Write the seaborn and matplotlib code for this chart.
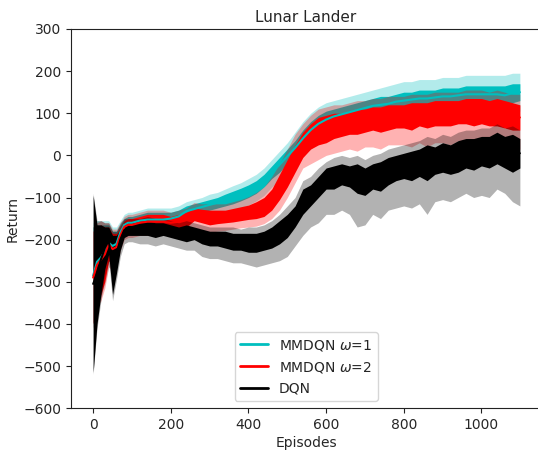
import pandas as pd
import seaborn as sns
import matplotlib.pyplot as plt

episodes = [0, 10, 20, 30, 40, 50, 60, 70, 80, 90, 100, 120, 140, 160, 180, 200,
            220, 240, 260, 280, 300, 320, 340, 360, 380, 400, 420, 440, 460, 480,
            500, 520, 540, 560, 580, 600, 620, 640, 660, 680, 700, 720, 740, 760,
            780, 800, 820, 840, 860, 880, 900, 920, 940, 960, 980, 1000, 1020,
            1040, 1060, 1080, 1099]

# MMDQN omega=1 (cyan): solid line envelope and light shaded band
mm1_lo = [-400, -340, -320, -290, -250, -250, -240, -200, -180, -175, -175, -170, -170, -170, -170, -165,
          -160, -145, -140, -135, -130, -125, -120, -115, -108, -100, -90, -75, -55, -40,
          -20, 0, 20, 40, 55, 65, 75, 80, 85, 90, 95, 100, 100, 105,
          110, 110, 115, 115, 115, 120, 120, 120, 125, 125, 125, 125, 125,
          125, 120, 125, 130]
mm1_hi = [-170, -165, -165, -165, -165, -180, -180, -165, -150, -145, -145, -140, -135, -135, -135, -135,
          -130, -120, -115, -110, -105, -100, -92, -85, -78, -70, -60, -45, -25, -5,
          15, 35, 60, 80, 95, 105, 110, 115, 120, 125, 130, 135, 140, 140,
          145, 150, 150, 155, 155, 155, 160, 160, 160, 165, 165, 165, 165,
          165, 165, 170, 170]
mm1_band_lo = [-410, -355, -335, -305, -265, -265, -255, -215, -195, -190, -190, -185, -185, -185, -185, -180,
               -175, -160, -155, -150, -145, -140, -135, -130, -125, -118, -108, -95, -75, -60,
               -40, -20, 0, 15, 30, 40, 50, 55, 60, 65, 70, 75, 75, 80,
               85, 85, 90, 90, 90, 95, 95, 95, 100, 100, 100, 100, 100,
               100, 95, 100, 105]
mm1_band_hi = [-160, -155, -155, -155, -155, -170, -170, -155, -140, -135, -135, -130, -125, -125, -125, -125,
               -120, -110, -105, -100, -92, -88, -80, -72, -65, -55, -45, -30, -10, 10,
               30, 55, 80, 100, 115, 125, 130, 135, 140, 145, 150, 155, 160, 165,
               170, 175, 175, 180, 180, 180, 185, 185, 185, 190, 190, 190, 190,
               190, 190, 195, 195]

# MMDQN omega=2 (red)
mm2_lo = [-400, -350, -330, -300, -250, -260, -250, -210, -185, -180, -180, -175, -175, -175, -175, -175,
          -175, -170, -155, -160, -165, -162, -160, -158, -155, -152, -150, -145, -130, -105,
          -75, -40, -5, 15, 25, 30, 40, 45, 50, 50, 55, 60, 55, 60,
          65, 65, 60, 70, 65, 70, 70, 70, 75, 75, 70, 75, 70,
          70, 65, 60, 60]
mm2_hi = [-180, -170, -165, -170, -170, -185, -185, -170, -155, -150, -150, -145, -140, -140, -140, -145,
          -140, -135, -125, -128, -130, -130, -130, -126, -122, -118, -110, -100, -80, -45,
          -10, 25, 55, 75, 90, 95, 100, 100, 105, 110, 110, 115, 115, 120,
          120, 120, 125, 125, 125, 130, 130, 130, 130, 135, 135, 135, 130,
          135, 130, 125, 120]
mm2_band_lo = [-410, -360, -345, -315, -265, -275, -265, -225, -200, -195, -195, -190, -190, -190, -190, -190,
               -190, -185, -175, -178, -182, -180, -178, -175, -172, -170, -168, -162, -150, -130,
               -100, -65, -30, -20, -10, 0, 5, 10, 15, 10, 20, 20, 15, 25,
               25, 25, 20, 30, 20, 30, 30, 25, 35, 35, 25, 35, 30,
               30, 20, 10, 15]
mm2_band_hi = [-170, -160, -155, -160, -160, -175, -175, -160, -145, -140, -140, -135, -130, -130, -130, -135,
               -130, -125, -112, -115, -115, -115, -115, -110, -105, -98, -88, -75, -50, -20,
               15, 50, 75, 95, 110, 115, 120, 120, 125, 130, 130, 135, 135, 140,
               140, 140, 145, 145, 145, 150, 150, 150, 150, 155, 155, 155, 150,
               155, 150, 145, 145]

# DQN (black)
dqn_lo = [-515, -400, -330, -270, -235, -330, -280, -225, -195, -190, -190, -190, -190, -195, -190, -195,
          -200, -205, -200, -210, -215, -215, -220, -225, -225, -230, -230, -225, -220, -210,
          -195, -170, -140, -120, -100, -80, -80, -70, -75, -90, -95, -80, -85, -70,
          -60, -55, -60, -50, -60, -45, -40, -45, -40, -30, -35, -25, -30,
          -20, -30, -40, -30]
dqn_hi = [-95, -165, -165, -170, -170, -190, -190, -175, -160, -160, -160, -160, -155, -160, -160, -165,
          -170, -165, -170, -175, -180, -180, -180, -185, -185, -185, -185, -180, -170, -155,
          -140, -120, -80, -70, -50, -30, -25, -20, -25, -20, -30, -20, -15, -5,
          0, 5, 10, 15, 25, 20, 30, 25, 35, 40, 40, 45, 45,
          55, 45, 50, 40]
dqn_band_lo = [-520, -410, -345, -285, -250, -345, -295, -240, -210, -205, -205, -210, -210, -215, -210, -215,
               -220, -225, -225, -240, -245, -245, -250, -255, -255, -260, -265, -260, -255, -250,
               -240, -215, -190, -170, -160, -140, -140, -130, -140, -170, -165, -140, -150, -130,
               -125, -120, -125, -115, -140, -110, -105, -110, -100, -90, -100, -95, -100,
               -80, -90, -110, -120]
dqn_band_hi = [-90, -155, -155, -160, -160, -180, -180, -160, -150, -150, -150, -150, -145, -150, -150, -155,
               -160, -155, -160, -165, -170, -170, -170, -170, -175, -170, -170, -165, -155, -140,
               -120, -100, -60, -50, -30, -15, -5, 0, -5, 0, -10, 0, 5, 15,
               20, 25, 30, 35, 45, 40, 50, 45, 55, 60, 60, 65, 65,
               75, 65, 70, 60]

sns.set_theme(style="ticks")
plt.rcParams['font.family'] = ['DejaVu Sans']

fig = plt.figure(figsize=(5.38, 4.53), dpi=100)
ax = fig.add_axes([0.132, 0.099, 0.874, 0.837])

series = [
    ("MMDQN $\\omega$=1", "#00bfbf", mm1_lo, mm1_hi, mm1_band_lo, mm1_band_hi),
    ("MMDQN $\\omega$=2", "#ff0000", mm2_lo, mm2_hi, mm2_band_lo, mm2_band_hi),
    ("DQN", "#000000", dqn_lo, dqn_hi, dqn_band_lo, dqn_band_hi),
]

for label, color, lo, hi, blo, bhi in series:
    # light shaded band (min..max over runs)
    band = pd.DataFrame({"Episodes": episodes * 2, "Return": blo + bhi})
    sns.lineplot(data=band, x="Episodes", y="Return", errorbar=("pi", 100),
                 color=color, lw=0, legend=False, ax=ax,
                 err_kws={"alpha": 0.3, "lw": 0})
    # the noisy curve itself, drawn as its solid envelope
    line = pd.DataFrame({"Episodes": episodes * 2, "Return": lo + hi})
    sns.lineplot(data=line, x="Episodes", y="Return", errorbar=("pi", 100),
                 color=color, lw=1.5, label=label, ax=ax,
                 err_kws={"alpha": 1.0, "lw": 0})

ax.set_xlim(-57, 1154)
ax.set_ylim(-600, 300)
ax.set_yticks(range(-600, 301, 100))
ax.set_xticks(range(0, 1001, 200))
ax.tick_params(labelsize=10, color="#222222", length=3.5, width=0.8, pad=3.5)
for sp in ax.spines.values():
    sp.set_color("#222222")
    sp.set_linewidth(0.8)
ax.set_title("Lunar Lander", fontsize=11, pad=5)
ax.set_xlabel("Episodes", fontsize=10, labelpad=3)
ax.set_ylabel("Return", fontsize=10, labelpad=3)

leg = ax.legend(loc="lower center", fontsize=10)
for h in leg.legend_handles:
    h.set_linewidth(2)

fig.savefig("out.png", dpi=100)
